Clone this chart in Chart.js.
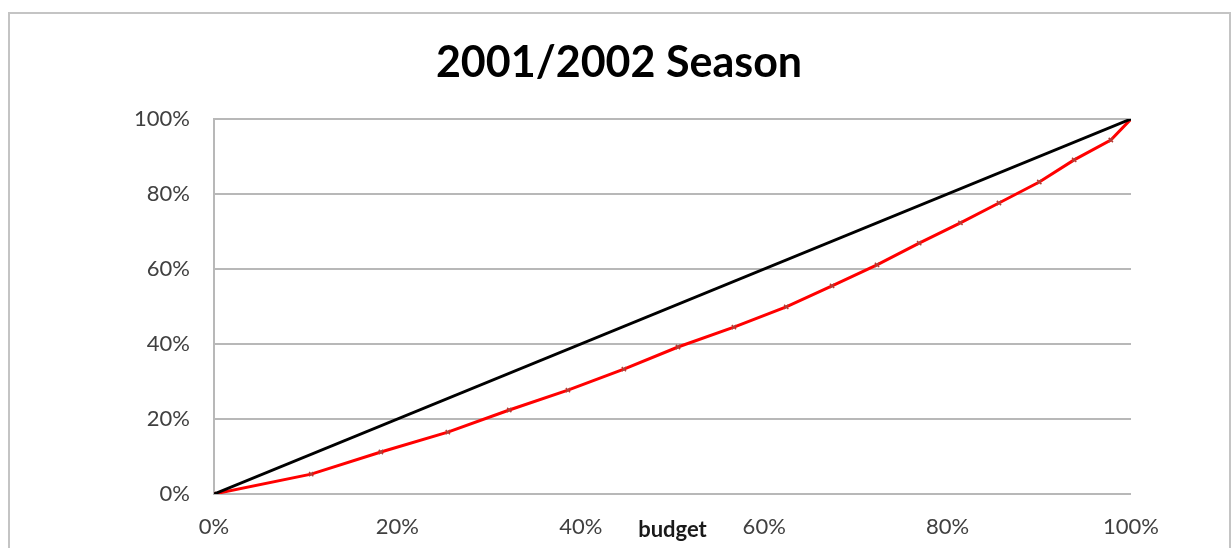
<!DOCTYPE html>
<html>
<head>
<meta charset="utf-8">
<title>2001/2002 Season</title>
<script src="https://cdn.jsdelivr.net/npm/chart.js@4/dist/chart.umd.min.js"></script>
<style>
  html, body { margin: 0; padding: 0; background: #fff; overflow: hidden; }
  #wrap { position: relative; width: 1231px; height: 548px; }
  #frame {
    position: absolute; left: 8px; top: 12px; width: 1219px; height: 560px;
    border: 2px solid #c4c4c4; pointer-events: none;
  }
</style>
</head>
<body>
<div id="wrap">
  <canvas id="chart" width="1231" height="548"></canvas>
  <div id="frame"></div>
</div>
<script>
// Werte (in Prozent)
const budgetAnteil = [0, 10.6, 18.2, 25.5, 32.2, 38.6, 44.7, 50.6, 56.7, 62.4, 67.4, 72.3, 76.9, 81.4, 85.6, 90.0, 93.8, 97.8, 100];
const punkteAnteil = [0, 5.3, 11.2, 16.5, 22.4, 27.7, 33.3, 39.2, 44.5, 49.9, 55.5, 61.1, 66.9, 72.3, 77.6, 83.2, 89.1, 94.4, 100];
const gleichX = [0, 100];
const gleichY = [0, 100];
const achsenTicks = [0, 20, 40, 60, 80, 100];
const titelText = '2001/2002 Season';
const achsenTitel = 'budget';

const schrift = 'Lato, "Open Sans", sans-serif';

function paare(xs, ys) {
    return xs.map((x, i) => ({ x: x, y: ys[i] }));
}

// Titel und Achsentitel selbst zeichnen ("budget" steht auf Höhe der Ticks)
const texte = {
    id: 'texte',
    afterDraw(chart) {
        const ctx = chart.ctx;
        const mitte = (chart.chartArea.left + chart.chartArea.right) / 2;
        ctx.save();
        ctx.textAlign = 'center';
        ctx.textBaseline = 'middle';
        ctx.font = 'bold 43px ' + schrift;
        ctx.fillStyle = '#000000';
        ctx.fillText(titelText, 619, 63);
        ctx.font = 'bold 22px ' + schrift;
        ctx.fillStyle = '#1a1a1a';
        ctx.fillText(achsenTitel, mitte, 530);
        ctx.restore();
    }
};

new Chart(document.getElementById('chart'), {
    type: 'scatter',
    data: {
        datasets: [{
            label: 'Gleichverteilung',
            data: paare(gleichX, gleichY),
            showLine: true,
            borderColor: '#000000',
            borderWidth: 3,
            pointRadius: 0
        }, {
            label: '2001/2002',
            data: paare(budgetAnteil, punkteAnteil),
            showLine: true,
            borderColor: '#ff0000',
            borderWidth: 3,
            tension: 0,
            pointStyle: 'crossRot',
            pointRadius: 3,
            pointBorderColor: '#b04038',
            pointBorderWidth: 1.5
        }]
    },
    options: {
        responsive: false,
        animation: false,
        layout: { padding: { left: 0, right: 100, top: 119, bottom: 0 } },
        plugins: {
            legend: { display: false },
            tooltip: { enabled: false },
            title: { display: false }
        },
        scales: {
            x: {
                type: 'linear',
                min: 0,
                max: 100,
                afterBuildTicks: (scale) => { scale.ticks = achsenTicks.map(v => ({ value: v })); },
                afterFit: (scale) => { scale.height = 54; },
                grid: { display: false },
                border: { display: false },
                ticks: {
                    padding: 12,
                    color: '#404040',
                    font: { family: schrift, size: 22 },
                    callback: (v) => v + '%'
                }
            },
            y: {
                min: 0,
                max: 100,
                afterBuildTicks: (scale) => { scale.ticks = achsenTicks.map(v => ({ value: v })); },
                afterFit: (scale) => { scale.width = 214; },
                grid: { color: '#b8b8b8', lineWidth: 2, drawTicks: false },
                border: { display: true, color: '#b8b8b8', width: 2 },
                ticks: {
                    padding: 24,
                    color: '#404040',
                    font: { family: schrift, size: 22 },
                    callback: (v) => v + '%'
                }
            }
        }
    },
    plugins: [texte]
});
</script>
</body>
</html>
